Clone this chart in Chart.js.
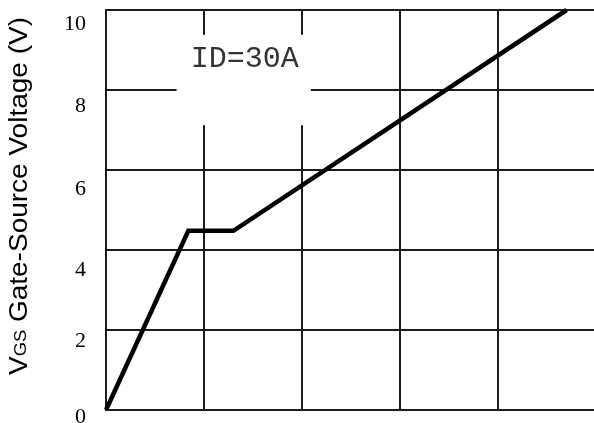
<!DOCTYPE html>
<html>
<head>
<meta charset="utf-8">
<script src="https://cdn.jsdelivr.net/npm/chart.js@4/dist/chart.umd.min.js"></script>
<style>
  html, body { margin: 0; padding: 0; background: #fff; overflow: hidden; }
  #wrap { width: 596px; height: 423px; }
</style>
</head>
<body>
<div id="wrap"><canvas id="gate" width="596" height="423"></canvas></div>
<script>
// gate charge curve, x in grid divisions (axis unlabeled)
var chargeDiv = [0, 0.84, 1.30, 4.70];
var gateVolts = [0, 4.48, 4.48, 10];
var yTicks = [0, 2, 4, 6, 8, 10];
var noteText = 'ID=30A';

var gridColor = '#1c1c1c';
// labels sit a little below their grid lines, not evenly
var tickDrop = { 0: 5, 2: 9, 4: 18, 6: 17, 8: 14, 10: 12 };

// white patch behind the current note, then the note itself
var notePlugin = {
  id: 'note',
  beforeDatasetsDraw: function (chart) {
    var ctx = chart.ctx, xs = chart.scales.x, ys = chart.scales.y;
    var l = xs.getPixelForValue(0.72), r = xs.getPixelForValue(2.09);
    var t = ys.getPixelForValue(9.38), b = ys.getPixelForValue(7.12);
    ctx.save();
    ctx.fillStyle = '#fff';
    ctx.fillRect(l, t, r - l, b - t);
    ctx.font = '30px "Liberation Mono", monospace';
    ctx.fillStyle = '#333';
    ctx.textAlign = 'center';
    ctx.textBaseline = 'alphabetic';
    ctx.fillText(noteText, (l + r) / 2 + 1, t + 32);
    ctx.restore();
  }
};

// y tick numbers and the rotated axis title with the GS subscript
var titlePlugin = {
  id: 'vgsTitle',
  afterDraw: function (chart) {
    var ctx = chart.ctx, ys = chart.scales.y;
    ctx.save();
    ctx.fillStyle = '#000';
    ctx.font = '22px "Liberation Serif", "Times New Roman", serif';
    ctx.textAlign = 'right';
    ctx.textBaseline = 'alphabetic';
    yTicks.forEach(function (v) {
      ctx.fillText(String(v), 86, ys.getPixelForValue(v) + tickDrop[v] + 7.5);
    });
    ctx.restore();

    var big = '26px "Liberation Sans", Arial, sans-serif';
    var small = '17px "Liberation Sans", Arial, sans-serif';
    var rest = ' Gate-Source Voltage (V)';
    ctx.save();
    ctx.font = big;
    var w1 = ctx.measureText('V').width;
    var w3 = ctx.measureText(rest).width;
    ctx.font = small;
    var w2 = ctx.measureText('GS').width;
    var k = 358 / (w1 + w2 + w3);
    ctx.translate(27, 375);
    ctx.rotate(-Math.PI / 2);
    ctx.scale(k, 1);
    ctx.fillStyle = '#000';
    ctx.textBaseline = 'alphabetic';
    ctx.font = big;
    ctx.fillText('V', 0, 0);
    ctx.font = small;
    ctx.fillText('GS', w1, -1);
    ctx.font = big;
    ctx.fillText(rest, w1 + w2, 0);
    ctx.restore();
  }
};

new Chart(document.getElementById('gate'), {
  type: 'line',
  data: {
    datasets: [{
      data: chargeDiv.map(function (x, i) { return { x: x, y: gateVolts[i] }; }),
      borderColor: '#000',
      borderWidth: 4.5,
      pointRadius: 0,
      tension: 0,
      fill: false,
      clip: false
    }]
  },
  options: {
    responsive: false,
    animation: false,
    layout: { padding: { top: 10, bottom: 13, left: 0, right: 0 } },
    plugins: { legend: { display: false }, tooltip: { enabled: false } },
    scales: {
      x: {
        type: 'linear',
        min: 0,
        max: 5,
        ticks: { display: false, stepSize: 1 },
        grid: { color: gridColor, lineWidth: 2, drawTicks: false },
        border: { color: gridColor, width: 2 },
        afterFit: function (s) {
          s.height = 0;
          s.paddingLeft = 0;
          s.paddingRight = 0;
        }
      },
      y: {
        type: 'linear',
        min: 0,
        max: 10,
        afterBuildTicks: function (s) {
          s.ticks = yTicks.map(function (v) { return { value: v }; });
        },
        ticks: { display: false },
        grid: { color: gridColor, lineWidth: 2, drawTicks: false },
        border: { color: gridColor, width: 2 },
        afterFit: function (s) {
          s.width = 106;
          s.paddingTop = 0;
          s.paddingBottom = 0;
        }
      }
    }
  },
  plugins: [notePlugin, titlePlugin]
});
</script>
</body>
</html>
